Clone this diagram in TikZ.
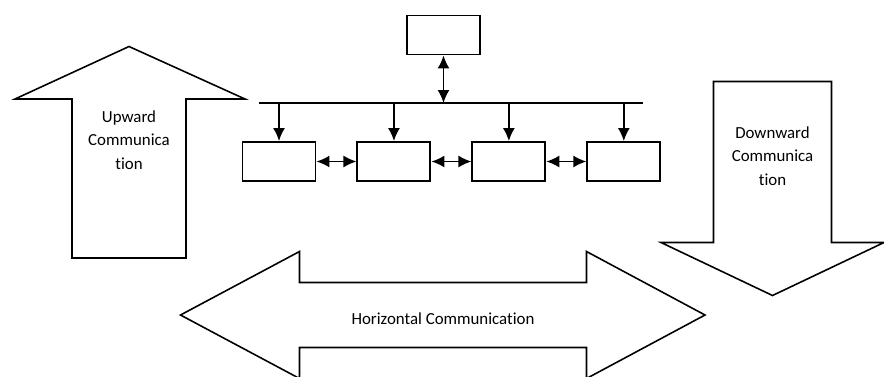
\documentclass[tikz,border=0pt]{standalone}
\usepackage{fontspec}
\setmainfont[Ligatures=NoCommon]{Carlito}
\usetikzlibrary{positioning,arrows.meta}

\begin{document}
\begin{tikzpicture}[>={Latex[length=2.6mm,width=2.4mm]}, line width=0.9pt,
  unit/.style={draw, line width=1.1pt, minimum width=1.46cm, minimum height=0.78cm, inner sep=0pt},
  caption/.style={align=center, font=\fontsize{9.6}{13.4}\selectfont}]
\useasboundingbox (0,0) rectangle (17.68,7.52);
% upward arrow
\draw (1.44,2.36) -- (1.44,5.54) -- (0.3,5.54) -- (2.58,6.59) -- (4.9,5.54) -- (3.72,5.54) -- (3.72,2.36) -- cycle;
\node[caption] (uptext) at (2.58,4.72) {Upward\\Communica\\tion};
% downward arrow
\draw (14.27,5.89) -- (16.63,5.89) -- (16.63,2.67) -- (17.68,2.67) -- (15.45,1.61) -- (13.22,2.67) -- (14.27,2.67) -- cycle;
\node[caption] (downtext) at (15.45,4.4) {Downward\\Communica\\tion};
% horizontal arrow
\draw (3.61,1.22) -- (5.99,2.49) -- (5.99,1.87) -- (11.73,1.87) -- (11.73,2.49) -- (14.1,1.22) -- (11.73,-0.05) -- (11.73,0.57) -- (5.99,0.57) -- (5.99,-0.05) -- cycle;
\node[caption] (horiztext) at (8.86,1.14) {Horizontal Communication};
% boxes
\node[unit] (top) at (8.87,6.82) {};
\node[unit] (b1) at (5.58,4.29) {};
\node[unit, right=0.8cm of b1] (b2) {};
\node[unit, right=0.8cm of b2] (b3) {};
\node[unit, right=0.8cm of b3] (b4) {};
\coordinate (busl) at (5.18,5.46);
\coordinate (busr) at (12.86,5.46);
\draw (busl) -- (busr);
\draw[<->] (top) -- (top |- busl);
\foreach \b in {b1,b2,b3,b4}
  \draw[->] (\b |- busl) -- (\b);
\draw[<->] (b1) -- (b2);
\draw[<->] (b2) -- (b3);
\draw[<->] (b3) -- (b4);
\end{tikzpicture}
\end{document}
